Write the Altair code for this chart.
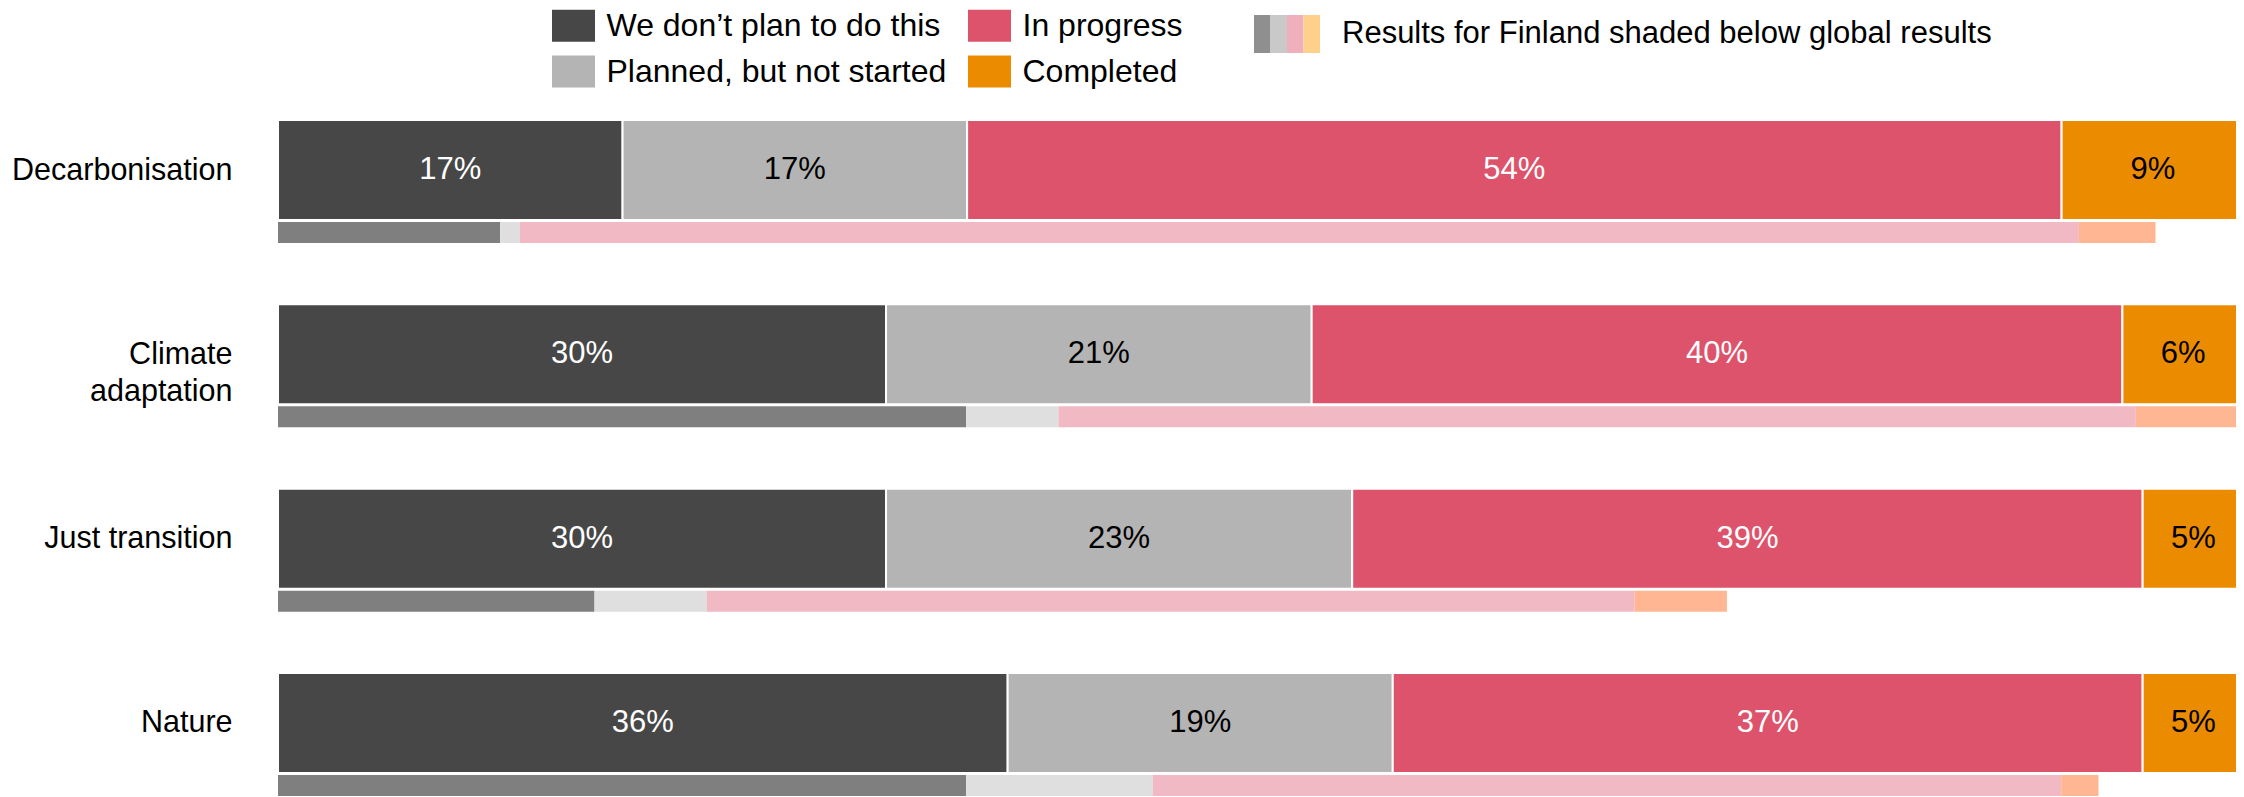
import altair as alt
import pandas as pd

FONT = "Liberation Sans, Arial, Helvetica, sans-serif"

# ---- data ----
categories = ["Decarbonisation", "Climate adaptation", "Just transition", "Nature"]
statuses = ["We don’t plan to do this", "Planned, but not started", "In progress", "Completed"]

global_dont_plan = [17, 30, 30, 36]
global_planned = [17, 21, 23, 19]
global_in_progress = [54, 40, 39, 37]
global_completed = [9, 6, 5, 5]

finland_dont_plan = [11.3, 35.0, 16.1, 35.0]
finland_planned = [1.0, 4.7, 5.7, 9.5]
finland_in_progress = [79.3, 54.8, 47.2, 46.2]
finland_completed = [3.9, 5.5, 4.7, 1.9]

global_colors = ["#474747", "#b4b4b4", "#dd536b", "#eb8c00"]
finland_colors = ["#7f7f7f", "#dfdfdf", "#f1b9c3", "#ffb793"]
finland_key_colors = ["#8f8f8f", "#c9c9c9", "#f0afbc", "#fdd08c"]
finland_key_text = "Results for Finland shaded below global results"


def long_table(series_list, status_col):
    rows = []
    for i, cat in enumerate(categories):
        for j, status in enumerate(statuses):
            rows.append({"category": cat, status_col: status, "order": j,
                         "value": series_list[j][i]})
    return pd.DataFrame(rows)


global_df = long_table([global_dont_plan, global_planned, global_in_progress, global_completed], "status")
finland_df = long_table([finland_dont_plan, finland_planned, finland_in_progress, finland_completed], "fi_status")

x_scale = alt.Scale(domain=[0, 100], range=[0, 1966], nice=False, zero=True)

y_enc = alt.Y(
    "category:N",
    sort=categories,
    scale=alt.Scale(type="point", padding=0.4015),
    axis=alt.Axis(
        title=None, domain=False, ticks=False, grid=False,
        labelFontSize=30.5, labelFont=FONT, labelColor="black",
        labelPadding=46, labelLineHeight=37.5, labelLimit=0,
        labelExpr="datum.value == 'Climate adaptation' ? ['Climate', 'adaptation'] : datum.value",
    ),
)

g = alt.Chart(global_df).transform_stack(
    stack="value", groupby=["category"], sort=[alt.SortField("order")],
    offset="normalize", as_=["s0", "s1"],
).transform_calculate(
    x0="datum.s0 * 100", x1="datum.s1 * 100",
    xm="(datum.s0 + datum.s1) * 50", label="datum.value + '%'",
)

global_bars = g.mark_bar(size=100, stroke="white", strokeWidth=2).encode(
    x=alt.X("x0:Q", scale=x_scale, axis=None),
    x2="x1:Q",
    y=y_enc,
    color=alt.Color(
        "status:N",
        scale=alt.Scale(domain=statuses, range=global_colors),
        legend=alt.Legend(
            title=None, orient="none", legendX=274, legendY=-92, columns=2,
            symbolType="M-1,-0.744H1V0.744H-1Z", symbolSize=1849,
            symbolStrokeWidth=0, symbolOpacity=1,
            labelFontSize=32, labelFont=FONT, labelColor="black",
            labelOffset=11.5, labelLimit=0,
            columnPadding=21, rowPadding=8, padding=0,
        ),
    ),
)

global_text = g.mark_text(fontSize=31, font=FONT, baseline="middle", align="center").encode(
    x=alt.X("xm:Q", scale=x_scale, axis=None),
    y=y_enc,
    text="label:N",
    color=alt.condition(
        "datum.status == 'Planned, but not started' || datum.status == 'Completed'",
        alt.value("black"), alt.value("white"),
    ),
)

finland_bars = alt.Chart(finland_df).transform_stack(
    stack="value", groupby=["category"], sort=[alt.SortField("order")],
    as_=["f0", "f1"],
).mark_bar(size=21, yOffset=62.5).encode(
    x=alt.X("f0:Q", scale=x_scale, axis=None),
    x2="f1:Q",
    y=y_enc,
    fill=alt.Fill("fi_status:N", scale=alt.Scale(domain=statuses, range=finland_colors), legend=None),
)

# legend key for the Finland shading
dummy = pd.DataFrame({"k": [0]})
key_layers = []
for k, col in enumerate(finland_key_colors):
    key_layers.append(
        alt.Chart(dummy).mark_rect(color=col).encode(
            x=alt.value(976 + 16.5 * k), x2=alt.value(976 + 16.5 * (k + 1)),
            y=alt.value(-81), y2=alt.value(-43),
        )
    )
key_text = alt.Chart(dummy).mark_text(
    text=finland_key_text, fontSize=31, font=FONT, align="left", baseline="middle", color="black"
).encode(x=alt.value(1064), y=alt.value(-62))

chart = alt.layer(
    finland_bars, global_bars, global_text, *key_layers, key_text
).resolve_legend(
    color="independent", fill="independent"
).properties(
    width=1958, height=701,
    padding={"left": 270, "top": 88, "right": 0, "bottom": 0},
    autosize=alt.AutoSizeParams(type="none"),
    background="white",
).configure_view(stroke=None)

chart.save("out.html", embed_options={"renderer": "svg", "actions": False})
